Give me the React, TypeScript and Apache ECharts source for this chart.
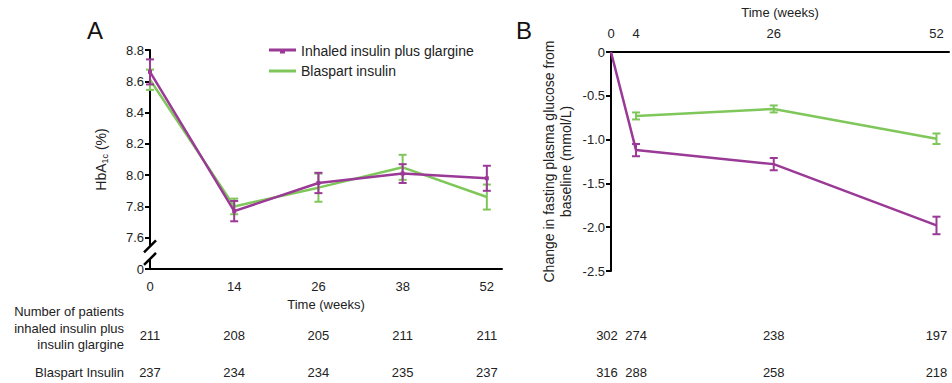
import React, { useEffect, useRef } from 'react';
import * as echarts from 'echarts';

// ---------- Data ----------
const weeksA = ['0', '14', '26', '38', '52'];
const hbInhaled = [8.66, 7.77, 7.95, 8.01, 7.98];
const hbInhaledErr = [0.08, 0.065, 0.065, 0.06, 0.08];
const hbBlaspart = [8.61, 7.8, 7.92, 8.05, 7.86];
const hbBlaspartErr = [0.065, 0.05, 0.09, 0.08, 0.08];
const yTicksA = ['0', '7.6', '7.8', '8.0', '8.2', '8.4', '8.6', '8.8'];

const weeksB = [0, 4, 26, 52];
const fpgInhaled = [0, -1.12, -1.28, -1.98];
const fpgInhaledErr = [0, 0.07, 0.07, 0.1];
const fpgBlaspart = [null, -0.73, -0.65, -0.99];
const fpgBlaspartErr = [0, 0.04, 0.04, 0.06];

const patientsInhaledA = [211, 208, 205, 211, 211];
const patientsBlaspartA = [237, 234, 234, 235, 237];
const patientsInhaledB = [302, 274, 238, 197];
const patientsBlaspartB = [316, 288, 258, 218];

const NAME_INH = 'Inhaled insulin plus glargine';
const NAME_BLA = 'Blaspart insulin';

const PURPLE = '#9a3996';
const GREEN = '#7fc75a';
const FONT = '"Liberation Sans", Arial, Helvetica, sans-serif';
const TXT = '#222';

function errRender(color: string) {
  return (params: any, api: any) => {
    const x = api.value(0);
    const lo = api.coord([x, api.value(1)]);
    const hi = api.coord([x, api.value(2)]);
    const w = 4;
    const style = { stroke: color, lineWidth: 2, fill: null };
    return {
      type: 'group',
      children: [
        { type: 'line', shape: { x1: lo[0], y1: lo[1], x2: hi[0], y2: hi[1] }, style },
        { type: 'line', shape: { x1: lo[0] - w, y1: lo[1], x2: lo[0] + w, y2: lo[1] }, style },
        { type: 'line', shape: { x1: hi[0] - w, y1: hi[1], x2: hi[0] + w, y2: hi[1] }, style },
      ],
    };
  };
}

export default function App() {
  const ref = useRef<HTMLDivElement>(null);
  useEffect(() => {
    document.body.style.margin = '0';
    const chart = echarts.init(ref.current!, null, { renderer: 'svg' });

    const axisLine = { show: true, lineStyle: { color: '#000', width: 2 } };
    const axisLabel = { color: TXT, fontSize: 13, fontFamily: FONT };

    const dataA = (vals: number[]) => vals.map((v, i) => [i, v]);
    const errA = (vals: number[], errs: number[]) => vals.map((v, i) => [i, v - errs[i], v + errs[i]]);
    const dataB = (vals: (number | null)[]) =>
      vals.map((v, i) => (v === null ? null : [weeksB[i], v])).filter((d) => d !== null);
    const errB = (vals: (number | null)[], errs: number[]) =>
      vals
        .map((v, i) => (v === null || errs[i] === 0 ? null : [weeksB[i], v - errs[i], v + errs[i]]))
        .filter((d) => d !== null);

    const option: any = {
      animation: false,
      textStyle: { fontFamily: FONT },
      legend: {
        left: 264,
        top: 39,
        orient: 'vertical',
        itemWidth: 27,
        itemHeight: 8,
        itemGap: 6,
        textStyle: { color: TXT, fontSize: 14, fontFamily: FONT },
        data: [
          {
            name: NAME_INH,
            icon: 'path://M0,0H0.01V0.01H0Z M0,1.5H27V4.5H0Z M11,4.5H16V6.5H11Z M0,7.99H0.01V8H0Z',
            itemStyle: { color: PURPLE },
          },
          {
            name: NAME_BLA,
            icon: 'path://M0,0H0.01V0.01H0Z M0,2.5H27V5.5H0Z M0,7.99H0.01V8H0Z',
            itemStyle: { color: GREEN },
          },
        ],
      },
      grid: [
        { left: 150, top: 50, width: 352, height: 219 },
        { left: 611, top: 52, width: 341, height: 219 },
      ],
      xAxis: [
        {
          type: 'value',
          gridIndex: 0,
          min: 0,
          max: 4.18,
          interval: 1,
          axisLine,
          axisTick: { show: false },
          splitLine: { show: false },
          axisLabel: {
            ...axisLabel,
            margin: 11,
            formatter: (v: number) =>
              Math.abs(v - Math.round(v)) < 1e-6 && weeksA[Math.round(v)] !== undefined ? weeksA[Math.round(v)] : '',
          },
          name: 'Time (weeks)',
          nameLocation: 'middle',
          nameGap: 29,
          nameTextStyle: { color: TXT, fontSize: 13, fontFamily: FONT },
        },
        {
          type: 'value',
          gridIndex: 1,
          position: 'top',
          min: 0,
          max: 54,
          interval: 2,
          axisLine,
          axisTick: { show: false },
          splitLine: { show: false },
          axisLabel: {
            ...axisLabel,
            margin: 12,
            formatter: (v: number) => (weeksB.indexOf(Math.round(v)) >= 0 ? String(Math.round(v)) : ''),
          },
          name: 'Time (weeks)',
          nameLocation: 'middle',
          nameGap: 33,
          nameTextStyle: { color: TXT, fontSize: 13, fontFamily: FONT },
        },
      ],
      yAxis: [
        {
          type: 'value',
          gridIndex: 0,
          min: 7.4,
          max: 8.8,
          interval: 0.2,
          axisLine,
          axisTick: { show: true, length: 5, lineStyle: { color: '#000', width: 2 } },
          splitLine: { show: false },
          axisLabel: {
            ...axisLabel,
            margin: 6,
            formatter: (v: number) => yTicksA[Math.round((v - 7.4) / 0.2)] ?? '',
          },
          name: '{a|HbA}{b|1c}{a| (%)}',
          nameLocation: 'middle',
          nameGap: 41,
          nameTextStyle: {
            rich: {
              a: { fontSize: 14, color: TXT, fontFamily: FONT },
              b: { fontSize: 9, color: TXT, fontFamily: FONT, verticalAlign: 'bottom', padding: [7, 0, 0, 0] },
            },
          },
        },
        {
          type: 'value',
          gridIndex: 1,
          min: -2.5,
          max: 0,
          interval: 0.5,
          axisLine,
          axisTick: { show: true, length: 5, lineStyle: { color: '#000', width: 2 } },
          splitLine: { show: false },
          axisLabel: {
            ...axisLabel,
            margin: 6,
            formatter: (v: number) => (Math.abs(v) < 1e-9 ? '0' : v.toFixed(1)),
          },
          name: 'Change in fasting plasma glucose from\nbaseline (mmol/L)',
          nameLocation: 'middle',
          nameGap: 37,
          nameTextStyle: { color: TXT, fontSize: 14, fontFamily: FONT, lineHeight: 17 },
        },
      ],
      series: [
        {
          name: NAME_BLA,
          type: 'line',
          xAxisIndex: 0,
          yAxisIndex: 0,
          data: dataA(hbBlaspart),
          symbol: 'none',
          lineStyle: { color: GREEN, width: 2.5 },
          itemStyle: { color: GREEN },
          z: 2,
        },
        {
          name: 'errA_bla',
          type: 'custom',
          xAxisIndex: 0,
          yAxisIndex: 0,
          data: errA(hbBlaspart, hbBlaspartErr),
          renderItem: errRender(GREEN),
          z: 3,
        },
        {
          name: NAME_INH,
          type: 'line',
          xAxisIndex: 0,
          yAxisIndex: 0,
          data: dataA(hbInhaled),
          symbol: 'rect',
          symbolSize: 4,
          lineStyle: { color: PURPLE, width: 2.5 },
          itemStyle: { color: PURPLE },
          z: 4,
        },
        {
          name: 'errA_inh',
          type: 'custom',
          xAxisIndex: 0,
          yAxisIndex: 0,
          data: errA(hbInhaled, hbInhaledErr),
          renderItem: errRender(PURPLE),
          z: 5,
        },
        {
          name: NAME_BLA,
          type: 'line',
          xAxisIndex: 1,
          yAxisIndex: 1,
          data: dataB(fpgBlaspart),
          symbol: 'none',
          lineStyle: { color: GREEN, width: 2.5 },
          itemStyle: { color: GREEN },
          z: 2,
        },
        {
          name: 'errB_bla',
          type: 'custom',
          xAxisIndex: 1,
          yAxisIndex: 1,
          data: errB(fpgBlaspart, fpgBlaspartErr),
          renderItem: errRender(GREEN),
          z: 3,
        },
        {
          name: NAME_INH,
          type: 'line',
          xAxisIndex: 1,
          yAxisIndex: 1,
          data: dataB(fpgInhaled),
          symbol: 'none',
          lineStyle: { color: PURPLE, width: 2.5 },
          itemStyle: { color: PURPLE },
          z: 4,
        },
        {
          name: 'errB_inh',
          type: 'custom',
          xAxisIndex: 1,
          yAxisIndex: 1,
          data: errB(fpgInhaled, fpgInhaledErr),
          renderItem: errRender(PURPLE),
          z: 5,
        },
      ],
    };

    chart.setOption(option);

    // positions from the axes
    const xA = weeksA.map((_, i) => chart.convertToPixel({ xAxisIndex: 0 }, i) as number);
    const xB = weeksB.map((w) => chart.convertToPixel({ xAxisIndex: 1 }, w) as number);
    const yAx0 = chart.convertToPixel({ xAxisIndex: 0 }, 0) as number;
    const y76 = chart.convertToPixel({ yAxisIndex: 0 }, 7.6) as number;
    const y74 = chart.convertToPixel({ yAxisIndex: 0 }, 7.4) as number;

    const txt = (text: string, x: number, y: number, align: string, size = 13, extra: any = {}) => ({
      type: 'text',
      z: 10,
      style: {
        text,
        x,
        y,
        align,
        textAlign: align,
        verticalAlign: 'middle',
        textVerticalAlign: 'middle',
        fill: TXT,
        fontSize: size,
        fontFamily: FONT,
        ...extra,
      },
    });

    const rowY1 = 335;
    const rowY2 = 372;
    const gap1 = y76 + (y74 - y76) * 0.28;
    const gap2 = y76 + (y74 - y76) * 0.68;

    const graphic: any[] = [
      txt('A', 87, 30, 'left', 24, { fill: '#111' }),
      txt('B', 516, 30, 'left', 24, { fill: '#111' }),
      // axis break
      {
        type: 'rect',
        z: 10,
        shape: { x: yAx0 - 4, y: gap1, width: 8, height: gap2 - gap1 },
        style: { fill: '#fff' },
      },
      {
        type: 'line',
        z: 11,
        shape: { x1: yAx0 - 6, y1: gap1 + 6, x2: yAx0 + 6, y2: gap1 - 6 },
        style: { stroke: '#000', lineWidth: 2.5 },
      },
      {
        type: 'line',
        z: 11,
        shape: { x1: yAx0 - 6, y1: gap2 + 6, x2: yAx0 + 6, y2: gap2 - 6 },
        style: { stroke: '#000', lineWidth: 2.5 },
      },
      // table labels
      txt('Number of patients', 124, 311, 'right'),
      txt('inhaled insulin plus', 124, 328, 'right'),
      txt('insulin glargine', 124, 344, 'right'),
      txt('Blaspart Insulin', 124, rowY2, 'right'),
      ...patientsInhaledA.map((n, i) => txt(String(n), xA[i], rowY1, 'center')),
      ...patientsBlaspartA.map((n, i) => txt(String(n), xA[i], rowY2, 'center')),
      ...patientsInhaledB.map((n, i) => txt(String(n), xB[i] + (i === 0 ? -4 : 0), rowY1, 'center')),
      ...patientsBlaspartB.map((n, i) => txt(String(n), xB[i] + (i === 0 ? -4 : 0), rowY2, 'center')),
    ];

    chart.setOption({ graphic });

    return () => chart.dispose();
  }, []);

  return <div ref={ref} style={{ width: 952, height: 383 }} />;
}
